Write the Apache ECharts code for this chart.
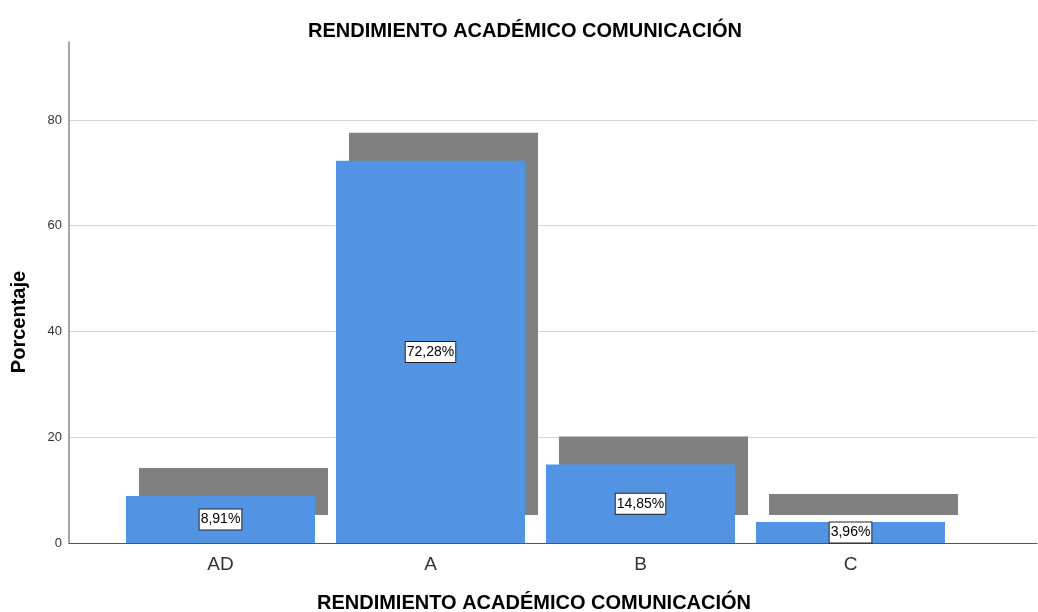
<!DOCTYPE html>
<html>
<head>
<meta charset="utf-8">
<script src="https://cdn.jsdelivr.net/npm/echarts@6/dist/echarts.min.js"></script>
<style>
  html, body { margin: 0; padding: 0; background: #fff; }
  #chart { width: 1038px; height: 612px; }
</style>
</head>
<body>
<div id="chart"></div>
<script>
const categories = ['AD', 'A', 'B', 'C']
const percentages = [8.91, 72.28, 14.85, 3.96]
const categoryPositions = [0, 1, 2, 3]
const chartTitle = 'RENDIMIENTO ACADÉMICO COMUNICACIÓN'
const yName = 'Porcentaje'

const font = '"Liberation Sans", Arial, sans-serif'
const barPx = 189
const shadowDx = 13
const shadowDy = -28

const points = categoryPositions.map((x, i) => [x, percentages[i]])

const chart = echarts.init(document.getElementById('chart'))
const option = {
  animation: false,
  title: [
    {
      text: chartTitle,
      left: 520, top: 16, textAlign: 'center',
      textStyle: { fontFamily: font, fontSize: 20, fontWeight: 'bold', color: '#000' }
    },
    {
      text: chartTitle,
      left: 529, top: 588, textAlign: 'center',
      textStyle: { fontFamily: font, fontSize: 20, fontWeight: 'bold', color: '#000' }
    }
  ],
  graphic: [
    {
      type: 'text',
      x: 9, y: 322,
      rotation: Math.PI / 2,
      style: {
        text: yName,
        font: 'bold 20px ' + font,
        fill: '#000',
        textAlign: 'center',
        textVerticalAlign: 'top'
      }
    }
  ],
  grid: { left: 69, right: 1, top: 42, bottom: 69 },
  xAxis: {
    type: 'value',
    min: -0.7214,
    max: 3.888,
    axisLine: { show: true, onZero: false, lineStyle: { color: '#555', width: 1 } },
    axisTick: { show: false },
    splitLine: { show: false },
    axisLabel: {
      customValues: categoryPositions,
      formatter: v => categories[Math.round(v)],
      fontFamily: font, fontSize: 19, color: '#333', margin: 12
    }
  },
  yAxis: {
    type: 'value',
    min: 0,
    max: 94.75,
    interval: 20,
    axisLine: { show: true, onZero: false, lineStyle: { color: '#888', width: 1.5 } },
    axisTick: { show: false },
    axisLabel: {
      showMaxLabel: false,
      fontFamily: font, fontSize: 13, color: '#333', margin: 7
    },
    splitLine: { showMaxLine: false, showMinLine: false, lineStyle: { color: '#d4d4d4', width: 1 } }
  },
  series: [
    {
      type: 'custom',
      z: 1,
      data: points,
      renderItem(params, api) {
        const x = api.value(0)
        const y = api.value(1)
        const base = api.coord([x, 0])
        const top = api.coord([x, y])
        return {
          type: 'rect',
          shape: {
            x: base[0] - barPx / 2 + shadowDx,
            y: top[1] + shadowDy,
            width: barPx,
            height: base[1] - top[1]
          },
          style: { fill: '#808080' }
        }
      }
    },
    {
      type: 'bar',
      z: 2,
      barWidth: barPx,
      data: points,
      itemStyle: { color: '#5294E3' },
      label: {
        show: true,
        position: 'inside',
        formatter: p => p.value[1].toFixed(2).replace('.', ',') + '%',
        fontFamily: font, fontSize: 14, color: '#000',
        backgroundColor: '#fff',
        borderColor: '#222', borderWidth: 1,
        padding: [4, 1, 2, 1]
      }
    }
  ]
}
chart.setOption(option)
</script>
</body>
</html>
